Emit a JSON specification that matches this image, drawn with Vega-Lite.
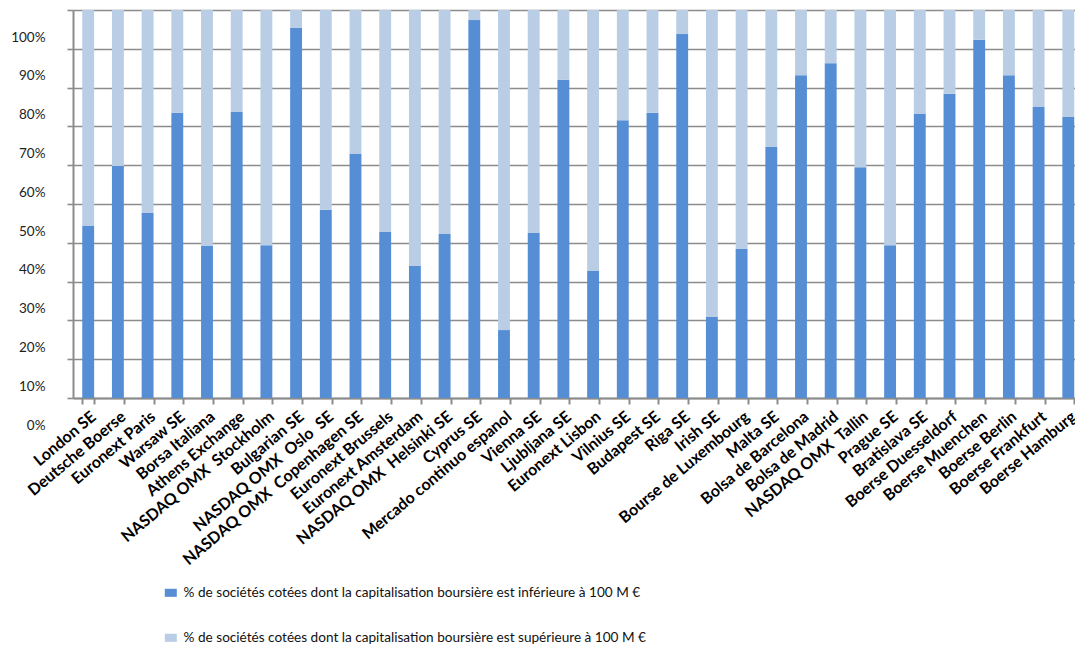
{
  "$schema": "https://vega.github.io/schema/vega-lite/v6.json",
  "width": 1002,
  "height": 388,
  "autosize": {"type": "none"},
  "padding": {"left": 73, "top": 10, "right": 0, "bottom": 250},
  "background": "white",
  "config": {"view": {"stroke": null}, "font": "Lato"},
  "data": {
    "values": [
      {"marche": "London SE", "inf": 44.3, "sup": 55.7},
      {"marche": "Deutsche Boerse", "inf": 59.8, "sup": 40.2},
      {"marche": "Euronext Paris", "inf": 47.7, "sup": 52.3},
      {"marche": "Warsaw SE", "inf": 73.5, "sup": 26.5},
      {"marche": "Borsa Italiana", "inf": 39.2, "sup": 60.8},
      {"marche": "Athens Exchange", "inf": 73.7, "sup": 26.3},
      {"marche": "NASDAQ OMX\u00a0 Stockholm", "inf": 39.4, "sup": 60.6},
      {"marche": "Bulgarian SE", "inf": 95.4, "sup": 4.6},
      {"marche": "NASDAQ OMX\u00a0 Oslo\u00a0 SE", "inf": 48.5, "sup": 51.5},
      {"marche": "NASDAQ OMX\u00a0 Copenhagen SE", "inf": 62.9, "sup": 37.1},
      {"marche": "Euronext Brussels", "inf": 42.8, "sup": 57.2},
      {"marche": "Euronext Amsterdam", "inf": 34.0, "sup": 66.0},
      {"marche": "NASDAQ OMX\u00a0 Helsinki SE", "inf": 42.3, "sup": 57.7},
      {"marche": "Cyprus SE", "inf": 97.4, "sup": 2.6},
      {"marche": "Mercado continuo espanol", "inf": 17.5, "sup": 82.5},
      {"marche": "Vienna SE", "inf": 42.5, "sup": 57.5},
      {"marche": "Ljubljana SE", "inf": 82.0, "sup": 18.0},
      {"marche": "Euronext Lisbon", "inf": 32.7, "sup": 67.3},
      {"marche": "Vilnius SE", "inf": 71.6, "sup": 28.4},
      {"marche": "Budapest SE", "inf": 73.5, "sup": 26.5},
      {"marche": "Riga SE", "inf": 93.8, "sup": 6.2},
      {"marche": "Irish SE", "inf": 20.9, "sup": 79.1},
      {"marche": "Bourse de Luxembourg", "inf": 38.4, "sup": 61.6},
      {"marche": "Malta SE", "inf": 64.7, "sup": 35.3},
      {"marche": "Bolsa de Barcelona", "inf": 83.2, "sup": 16.8},
      {"marche": "Bolsa de Madrid", "inf": 86.3, "sup": 13.7},
      {"marche": "NASDAQ OMX\u00a0 Tallin", "inf": 59.5, "sup": 40.5},
      {"marche": "Prague SE", "inf": 39.4, "sup": 60.6},
      {"marche": "Bratislava SE", "inf": 73.2, "sup": 26.8},
      {"marche": "Boerse Duesseldorf", "inf": 78.4, "sup": 21.6},
      {"marche": "Boerse Muenchen", "inf": 92.3, "sup": 7.7},
      {"marche": "Boerse Berlin", "inf": 83.2, "sup": 16.8},
      {"marche": "Boerse Frankfurt", "inf": 75.0, "sup": 25.0},
      {"marche": "Boerse Hamburg", "inf": 72.4, "sup": 27.6}
    ]
  },
  "transform": [{"fold": ["inf", "sup"], "as": ["serie", "pct"]}],
  "mark": {"type": "bar"},
  "encoding": {
    "x": {
      "field": "marche", "type": "nominal", "sort": null,
      "scale": {"paddingInner": 0.6, "paddingOuter": 0.1686, "align": 0.924},
      "axis": {
        "title": null, "labelAngle": -40, "labelFont": "Lato", "labelFontWeight": "bold",
        "labelFontSize": 16, "labelColor": "#000000", "tickBand": "extent", "tickSize": 6,
        "tickColor": "#8c8c8c", "tickWidth": 2, "domainColor": "#8c8c8c", "domainWidth": 2,
        "labelPadding": 4, "labelLimit": 300, "labelAlign": "right", "labelBaseline": "top"
      }
    },
    "y": {
      "field": "pct", "type": "quantitative", "stack": "zero",
      "scale": {"domain": [0, 100], "nice": false},
      "axis": {
        "title": null, "values": [0, 10, 20, 30, 40, 50, 60, 70, 80, 90, 100],
        "labelExpr": "datum.value + '%'", "grid": true, "gridColor": "#8c8c8c", "gridWidth": 1.6,
        "domainColor": "#8c8c8c", "domainWidth": 2, "tickColor": "#8c8c8c", "tickWidth": 1.6,
        "tickSize": 6, "labelFont": "Lato", "labelFontSize": 13.5, "labelColor": "#222222",
        "labelPadding": 22, "labelOffset": 27
      }
    },
    "order": {"field": "serie", "type": "nominal", "sort": "ascending"},
    "color": {
      "field": "serie", "type": "nominal",
      "scale": {"domain": ["inf", "sup"], "range": ["#558ED5", "#B9CDE5"]},
      "legend": {
        "orient": "none", "legendX": 91, "legendY": 576, "direction": "vertical", "title": null,
        "labelExpr": "datum.value == 'inf' ? '% de sociétés cotées dont la capitalisation boursière est inférieure à 100 M €' : '% de sociétés cotées dont la capitalisation boursière est supérieure à 100 M €'",
        "labelFont": "Lato", "labelFontSize": 13.6, "labelColor": "#111111", "labelLimit": 800,
        "rowPadding": 30, "symbolType": "M-1,-0.67H1V0.67H-1Z", "symbolSize": 144,
        "symbolStrokeWidth": 0, "labelOffset": 6
      }
    }
  }
}
